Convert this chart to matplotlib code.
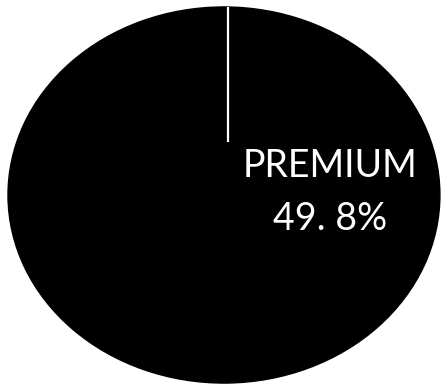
import numpy as np
import matplotlib
matplotlib.use('Agg')
import matplotlib.pyplot as plt

labels = ['PREMIUM', '']
shares = [49.8, 50.2]

fig = plt.figure(figsize=(4.41, 3.84), dpi=100)
ax = fig.add_axes([0, 0, 1, 1])

start = 90
wedges, _ = ax.pie(shares, startangle=start, counterclock=False,
                   colors=['black', 'black'], radius=1,
                   wedgeprops=dict(linewidth=1, edgecolor='black'))

# white divider only along the start edge of the first slice
theta = np.deg2rad(start)
r = np.array([0.28, 1.0])
ax.plot(r * np.cos(theta) + 0.02, r * np.sin(theta), color='white', lw=1.6,
        solid_capstyle='butt')

# label placed along the middle of the PREMIUM slice
mid = np.deg2rad(start - shares[0] / 100 * 360 / 2)
lx, ly = 0.49 * np.cos(mid), 0.49 * np.sin(mid)
ax.text(lx, ly + 0.15, labels[0], color='white', fontsize=27,
        family='Lato', ha='center', va='center')
ax.text(lx, ly - 0.13, f'{shares[0]:.1f}%'.replace('.', '. '), color='white',
        fontsize=27, family='Lato', ha='center', va='center')

ax.set_xlim(-1.037, 1.005)
ax.set_ylim(-1.005, 1.037)
ax.set_aspect('auto')
ax.axis('off')

fig.savefig('out.png', dpi=100, facecolor='white')
